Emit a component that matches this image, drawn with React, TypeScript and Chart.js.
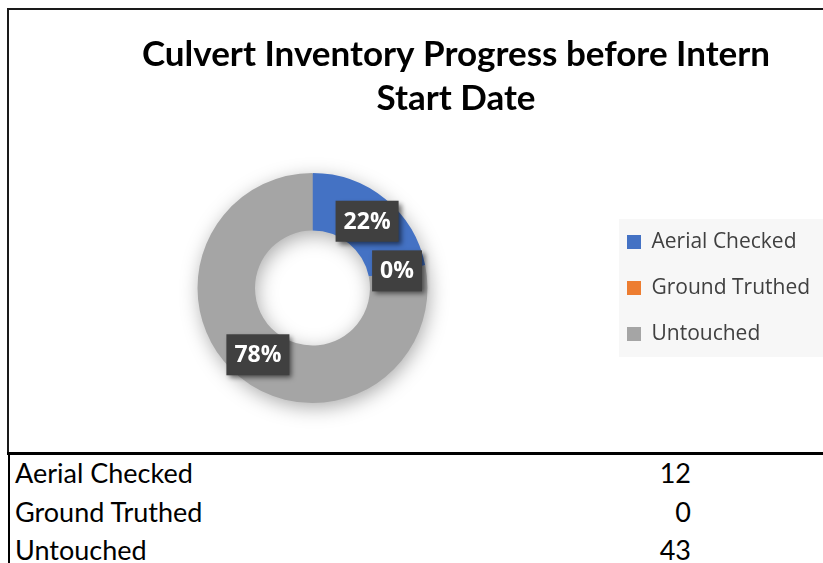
import React, { useEffect, useRef } from 'react';
import { Chart, registerables, layouts } from 'chart.js';

Chart.register(...registerables);

const titleLines = ['Culvert Inventory Progress before Intern', 'Start Date'];
const categories = ['Aerial Checked', 'Ground Truthed', 'Untouched'];
const counts = [12, 0, 43];
const colors = ['#4472C4', '#ED7D31', '#A5A5A5'];

const CANVAS_W = 894;
const CANVAS_H = 442;
const LEGEND_LEFT = 593;
const PAD_SIDE = 14;

export default function App() {
  const ref = useRef<HTMLCanvasElement>(null);

  useEffect(() => {
    if (!ref.current) return;

    const spacer: any = {
      position: 'right',
      weight: 2000,
      fullSize: false,
      options: { stackWeight: 1 },
      chart: null as any,
      width: 0,
      height: 0,
      left: 0,
      top: 0,
      right: 0,
      bottom: 0,
      isHorizontal() {
        return false;
      },
      update(maxWidth: number, maxHeight: number) {
        const lw = this.chart && this.chart.legend ? this.chart.legend.width : 210;
        this.width = Math.max(0, CANVAS_W - PAD_SIDE - LEGEND_LEFT - lw);
        this.height = maxHeight;
      },
      draw() {},
    };

    const layoutPlugin = {
      id: 'spacerBox',
      beforeInit(chart: any) {
        spacer.chart = chart;
        layouts.addBox(chart, spacer);
      },
    };

    const legendBg = {
      id: 'legendBg',
      beforeDraw(chart: any) {
        const lg = chart.legend;
        if (!lg || !lg.legendHitBoxes || !lg.legendHitBoxes.length) return;
        const hb = lg.legendHitBoxes;
        const first = hb[0];
        const last = hb[hb.length - 1];
        const ctx = chart.ctx;
        ctx.save();
        ctx.fillStyle = '#f7f7f7';
        const top = first.top + first.height / 2 - 23;
        const bottom = last.top + last.height / 2 + 23;
        ctx.fillRect(first.left - 8, top, chart.width - (first.left - 8), bottom - top);
        ctx.restore();
      },
    };

    const ringShadow = {
      id: 'ringShadow',
      beforeDatasetsDraw(chart: any) {
        const arc: any = chart.getDatasetMeta(0).data[0];
        if (!arc) return;
        const { x, y, innerRadius, outerRadius } = arc.getProps(['x', 'y', 'innerRadius', 'outerRadius']);
        const ctx = chart.ctx;
        ctx.save();
        ctx.shadowColor = 'rgba(0,0,0,0.35)';
        ctx.shadowBlur = 20;
        ctx.shadowOffsetX = 2;
        ctx.shadowOffsetY = 5;
        ctx.beginPath();
        ctx.arc(x, y, outerRadius - 1, 0, Math.PI * 2);
        ctx.arc(x, y, innerRadius + 1, 0, Math.PI * 2, true);
        ctx.fillStyle = '#A5A5A5';
        ctx.fill();
        ctx.restore();
      },
    };

    const pctLabels = {
      id: 'pctLabels',
      afterDatasetsDraw(chart: any) {
        const ctx = chart.ctx;
        const meta = chart.getDatasetMeta(0);
        const data = chart.data.datasets[0].data as number[];
        const total = data.reduce((a, b) => a + b, 0);
        ctx.save();
        ctx.font = "bold 23px 'Open Sans'";
        meta.data.forEach((arc: any, i: number) => {
          const p = arc.getCenterPoint();
          const txt = Math.round((data[i] / total) * 100) + '%';
          const tw = ctx.measureText(txt).width;
          const w = tw + 16;
          const h = 41;
          ctx.shadowColor = 'rgba(0,0,0,0.55)';
          ctx.shadowBlur = 5;
          ctx.shadowOffsetX = 3;
          ctx.shadowOffsetY = 3;
          ctx.fillStyle = '#404040';
          ctx.fillRect(p.x - w / 2, p.y - h / 2, w, h);
          ctx.shadowColor = 'transparent';
          ctx.shadowBlur = 0;
          ctx.shadowOffsetX = 0;
          ctx.shadowOffsetY = 0;
          ctx.fillStyle = '#ffffff';
          ctx.textAlign = 'center';
          ctx.textBaseline = 'middle';
          ctx.fillText(txt, p.x, p.y + 1);
        });
        ctx.restore();
      },
    };

    const chart = new Chart(ref.current, {
      type: 'doughnut',
      data: {
        labels: categories,
        datasets: [
          {
            data: counts,
            backgroundColor: colors,
            borderWidth: 0,
            radius: 115,
            cutout: '50%',
          } as any,
        ],
      },
      options: {
        responsive: false,
        animation: false,
        layout: { padding: { left: PAD_SIDE, right: PAD_SIDE, top: 0, bottom: 0 } },
        plugins: {
          title: {
            display: true,
            text: titleLines,
            color: '#000000',
            font: { family: 'Lato', size: 35, weight: 'bold', lineHeight: '44px' } as any,
            padding: { top: 23, bottom: 3 },
          },
          legend: {
            position: 'right',
            fullSize: false,
            labels: {
              boxWidth: 14,
              boxHeight: 14,
              padding: 25,
              color: '#404040',
              font: { family: "'Open Sans'", size: 21 },
            },
          },
          tooltip: { enabled: false },
        },
      } as any,
      plugins: [layoutPlugin, legendBg, ringShadow, pctLabels],
    });

    return () => chart.destroy();
  }, []);

  const rowCenters = [473, 512, 550];

  return (
    <div
      style={{
        position: 'absolute',
        left: 0,
        top: 0,
        width: 823,
        height: 563,
        overflow: 'hidden',
        background: '#ffffff',
      }}
    >
      <div
        style={{
          position: 'absolute',
          left: 7,
          top: 8,
          width: 900,
          height: 444,
          borderLeft: '2px solid #1a1a1a',
          borderTop: '2px solid #1a1a1a',
        }}
      >
        <canvas
          ref={ref}
          width={CANVAS_W}
          height={CANVAS_H}
          style={{ display: 'block', width: CANVAS_W, height: CANVAS_H }}
        />
      </div>
      <div style={{ position: 'absolute', left: 7, top: 452, width: 816, height: 3, background: '#000' }} />
      <div style={{ position: 'absolute', left: 8, top: 455, width: 2, height: 108, background: '#000' }} />
      {categories.map((c, i) => (
        <React.Fragment key={c}>
          <div
            style={{
              position: 'absolute',
              left: 15,
              top: rowCenters[i] - 19,
              height: 38,
              lineHeight: '38px',
              fontFamily: 'Lato',
              fontSize: 27,
              color: '#000',
              whiteSpace: 'nowrap',
            }}
          >
            {c}
          </div>
          <div
            style={{
              position: 'absolute',
              left: 591,
              width: 100,
              top: rowCenters[i] - 19,
              height: 38,
              lineHeight: '38px',
              fontFamily: 'Lato',
              fontSize: 27,
              color: '#000',
              textAlign: 'right',
              whiteSpace: 'nowrap',
            }}
          >
            {counts[i]}
          </div>
        </React.Fragment>
      ))}
    </div>
  );
}
